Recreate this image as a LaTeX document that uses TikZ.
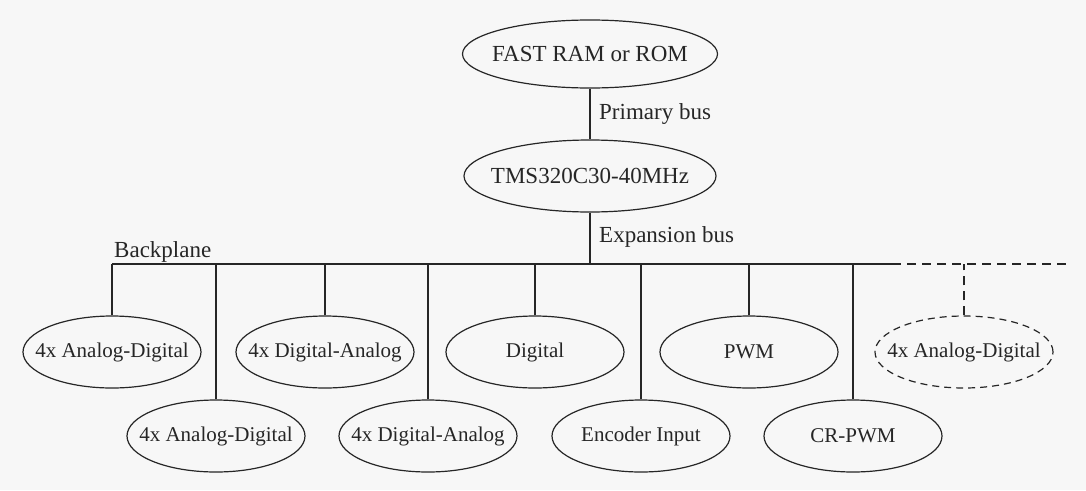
\documentclass[tikz,border=0pt]{standalone}
\usepackage{fontspec}
\setmainfont{Liberation Serif}
\usetikzlibrary{shapes.geometric}
\newcommand{\zw}[1]{\makebox[0pt]{#1}}
\tikzset{
  unit/.style={ellipse, draw=black!85, line width=1.2pt, inner sep=0pt,
    minimum width=178pt, minimum height=72pt, text=black!85,
    font=\fontsize{21}{24}\selectfont},
  topunit/.style={unit, font=\fontsize{23}{26}\selectfont},
  optunit/.style={unit, dash pattern=on 7pt off 5pt},
  wire/.style={draw=black!85, line width=1.2pt},
  optwire/.style={wire, dash pattern=on 9pt off 6pt},
  lbl/.style={anchor=base west, inner sep=0pt, text=black!85,
    font=\fontsize{23}{26}\selectfont}
}
\begin{document}
\begin{tikzpicture}[x=1pt,y=-1pt]
\fill[black!3] (0,0) rectangle (1086,490);
\useasboundingbox (0,0) rectangle (1086,490);

% top
\node[topunit, minimum width=255pt, minimum height=68pt] (ram) at (590,54) {\zw{FAST RAM or ROM}};
\node[topunit, minimum width=252pt, minimum height=72pt] (cpu) at (590,176) {\zw{TMS320C30-40MHz}};
\node[lbl] (pbus) at (599,119) {Primary bus};
\node[lbl] (ebus) at (599,242) {Expansion bus};
\node[lbl] (bpl) at (114,257) {Backplane};

% backplane
\coordinate (bpL) at (112,264);
\coordinate (bpR) at (892,264);
\coordinate (bpE) at (1068,264);
\draw[wire] (bpL) -- (bpR);
\draw[optwire] (bpR) -- (bpE);

\draw[wire] (ram) -- (cpu);
\draw[wire] (cpu.south) -- (cpu.south |- bpL);

% row 1
\node[unit] (ad1) at (112,352) {\zw{4x Analog-Digital}};
\node[unit] (da1) at (325,352) {\zw{4x Digital-Analog}};
\node[unit] (dig) at (535,352) {\zw{Digital}};
\node[unit] (pwm) at (749,352) {\zw{PWM}};
\node[optunit] (ad3) at (964,352) {\zw{4x Analog-Digital}};

% row 2
\node[unit] (ad2) at (216,436) {\zw{4x Analog-Digital}};
\node[unit] (da2) at (428,436) {\zw{4x Digital-Analog}};
\node[unit] (enc) at (641,436) {\zw{Encoder Input}};
\node[unit] (crp) at (853,436) {\zw{CR-PWM}};

\foreach \n in {ad1,da1,dig,pwm,ad2,da2,enc,crp}
  \draw[wire] (\n.north) -- (\n.north |- bpL);
\draw[optwire] (ad3.north) -- (ad3.north |- bpL);
\end{tikzpicture}
\end{document}
